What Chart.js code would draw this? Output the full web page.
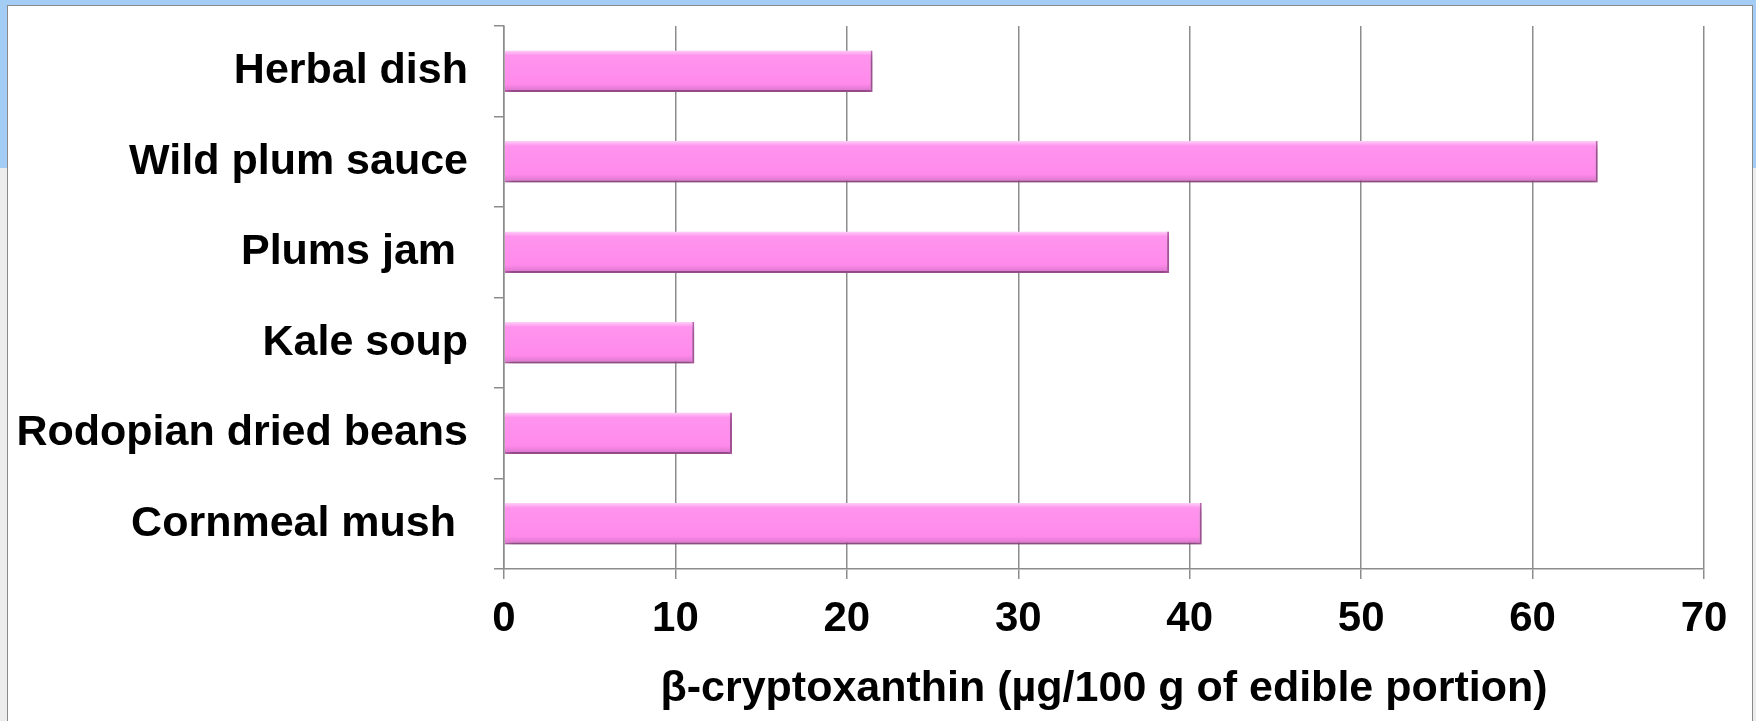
<!DOCTYPE html>
<html>
<head>
<meta charset="utf-8">
<script src="https://cdn.jsdelivr.net/npm/chart.js@4.4.1/dist/chart.umd.min.js"></script>
<style>
  html, body { margin: 0; padding: 0; }
  body {
    width: 1756px; height: 721px; overflow: hidden; position: relative;
    background: linear-gradient(to bottom, #a3cdf4 0, #a3cdf4 168px, #ededed 168px);
  }
  #panel {
    position: absolute; left: 7px; top: 5px; width: 1746px; height: 720px;
    background: #fff; border: 1px solid #8a8a8a; box-sizing: border-box;
  }
  #wrap { position: absolute; left: 0; top: 0; width: 1756px; height: 721px; }
</style>
</head>
<body>
<div id="panel"></div>
<div id="wrap"><canvas id="chart" width="1756" height="721"></canvas></div>
<script>
// β-cryptoxanthin content per dish
const dishes = ['Herbal dish', 'Wild plum sauce', 'Plums jam ', 'Kale soup', 'Rodopian dried beans', 'Cornmeal mush '];
const cryptoxanthin = [21.5, 63.8, 38.8, 11.1, 13.3, 40.7];
const xTicks = [0, 10, 20, 30, 40, 50, 60, 70];

const FONT = '"Liberation Sans", Arial, sans-serif';
const GRID = '#8c8c8c';
const BAR_PCT = 0.46;

// vertical pink gradient for each bar, built from the y scale position
function barFill(c) {
  const chart = c.chart;
  const y = chart.scales.y;
  if (!y || c.dataIndex === undefined) return '#ff8cec';
  const mid = y.getPixelForValue(c.dataIndex);
  const h = (y.height / dishes.length) * BAR_PCT;
  if (!Number.isFinite(mid) || !Number.isFinite(h) || h <= 0) return '#ff8cec';
  const g = chart.ctx.createLinearGradient(0, mid - h / 2, 0, mid + h / 2);
  g.addColorStop(0, '#ffd0f8');
  g.addColorStop(0.12, '#ff94ee');
  g.addColorStop(0.8, '#ff8aeb');
  g.addColorStop(1, '#d673c9');
  return g;
}

const chart = new Chart(document.getElementById('chart'), {
  type: 'bar',
  data: {
    labels: dishes,
    datasets: [{
      data: cryptoxanthin,
      backgroundColor: barFill,
      borderColor: '#c564b6',
      borderWidth: { top: 0, right: 2, bottom: 2, left: 0 },
      borderSkipped: false,
      categoryPercentage: 1,
      barPercentage: BAR_PCT
    }]
  },
  options: {
    indexAxis: 'y',
    responsive: false,
    animation: false,
    layout: { padding: { left: 0, right: 52, top: 26, bottom: 0 } },
    plugins: { legend: { display: false }, tooltip: { enabled: false } },
    scales: {
      x: {
        min: 0, max: 70,
        afterBuildTicks(s) { s.ticks = xTicks.map(v => ({ value: v })); },
        afterFit(s) { s.height = 152; },
        grid: { color: GRID, lineWidth: 1.5, tickLength: 10 },
        border: { color: GRID, width: 1.5 },
        ticks: { color: '#000', padding: 15, font: { family: FONT, size: 42, weight: 'bold' } },
        title: {
          display: true,
          text: 'β-cryptoxanthin (µg/100 g of edible portion)',
          color: '#000',
          padding: { top: 0, bottom: 6 },
          font: { family: FONT, size: 43, weight: 'bold' }
        }
      },
      y: {
        afterFit(s) { s.width = 504; s.paddingTop = 0; s.paddingBottom = 0; },
        grid: { drawOnChartArea: false, color: GRID, lineWidth: 1.5, tickLength: 10 },
        border: { color: GRID, width: 1.5 },
        ticks: { color: '#000', padding: 26, font: { family: FONT, size: 43, weight: 'bold' } }
      }
    }
  },
  plugins: [{
    // soft drop shadow under the bars
    id: 'barShadow',
    beforeDatasetsDraw(chart) {
      const ctx = chart.ctx;
      ctx.save();
      ctx.shadowColor = 'rgba(0,0,0,0.35)';
      ctx.shadowBlur = 7;
      ctx.shadowOffsetX = 2;
      ctx.shadowOffsetY = 4;
    },
    afterDatasetsDraw(chart) { chart.ctx.restore(); }
  }]
});
// second pass so the gradients use the laid-out scale
chart.update();
</script>
</body>
</html>
